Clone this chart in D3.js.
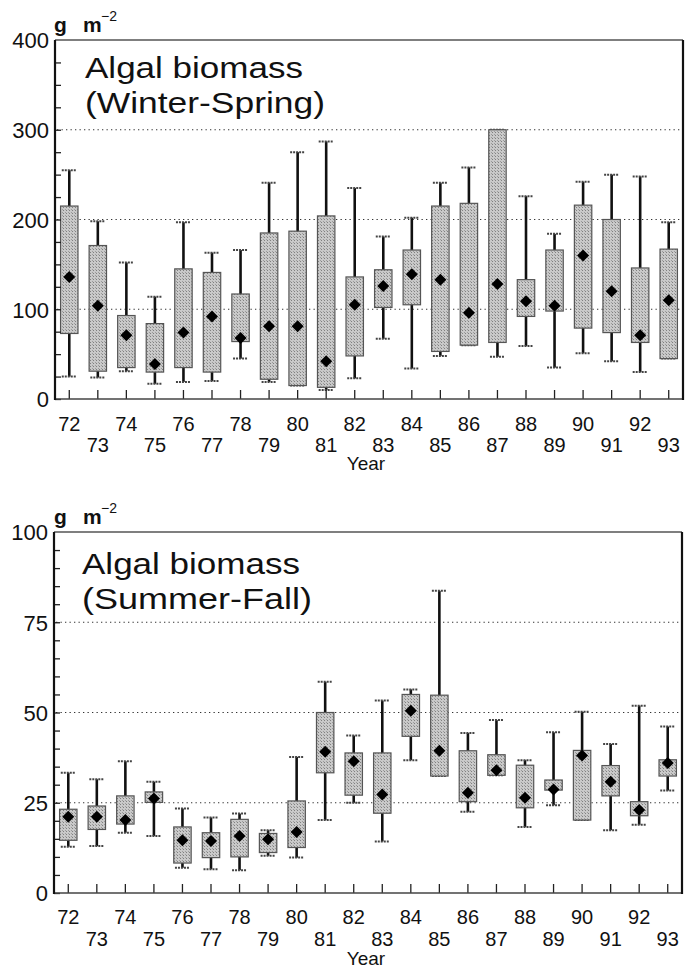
<!DOCTYPE html>
<html>
<head>
<meta charset="utf-8">
<script src="https://cdn.jsdelivr.net/npm/d3@7"></script>
<style>
  body { margin: 0; background: #fff; }
  svg { display: block; }
  text { font-family: "Liberation Sans", Arial, sans-serif; fill: #111; }
</style>
</head>
<body>
<svg id="chart" width="691" height="970"></svg>
<script>
// years on the x axis
const years = ['72', '73', '74', '75', '76', '77', '78', '79', '80', '81', '82',
  '83', '84', '85', '86', '87', '88', '89', '90', '91', '92', '93'];

// Winter-Spring (g m-2)
const wsHigh = [255, 198, 152, 114, 197, 163, 166, 241, 275, 287, 235, 181, 202, 241, 258, 300, 226, 184, 242, 250, 248, 197];
const wsQ3 = [215, 171, 93, 84, 145, 141, 117, 185, 187, 204, 136, 144, 166, 215, 218, 300, 133, 166, 216, 200, 146, 167];
const wsQ1 = [73, 31, 35, 30, 35, 30, 64, 22, 15, 13, 48, 102, 105, 53, 60, 63, 92, 98, 79, 74, 63, 45];
const wsLow = [25, 24, 31, 17, 19, 20, 45, 19, 15, 10, 23, 67, 34, 48, 60, 47, 59, 35, 51, 42, 30, 45];
const wsMid = [136, 104, 71, 39, 74, 92, 68, 81, 81, 42, 105, 126, 139, 133, 96, 128, 109, 104, 160, 120, 71, 110];

// Summer-Fall (g m-2)
const sfHigh = [33.3, 31.5, 36.5, 30.8, 23.4, 20.9, 22.0, 17.4, 37.7, 58.5, 43.6, 53.3, 56.4, 83.7, 44.3, 47.9, 36.8, 44.5, 50.2, 41.3, 51.9, 46.1];
const sfQ3 = [23.2, 24.1, 26.9, 28.0, 18.3, 16.7, 20.4, 16.5, 25.5, 50.0, 38.8, 38.8, 55.0, 54.8, 39.4, 38.3, 35.4, 31.3, 39.5, 35.3, 25.3, 36.9];
const sfQ1 = [14.6, 17.6, 19.1, 25.1, 8.3, 9.8, 10.0, 11.2, 12.6, 33.3, 27.1, 22.1, 43.4, 32.4, 25.3, 32.6, 23.6, 28.5, 20.2, 26.9, 21.4, 32.4];
const sfLow = [12.8, 13.0, 16.7, 15.8, 7.0, 6.6, 6.3, 10.3, 9.8, 20.2, 25.0, 14.3, 36.8, 32.4, 22.5, 32.6, 18.3, 24.3, 20.2, 17.4, 18.9, 28.4];
const sfMid = [21.1, 21.1, 20.2, 26.2, 14.6, 14.4, 15.8, 14.9, 16.9, 39.1, 36.5, 27.3, 50.5, 39.4, 27.8, 34.0, 26.4, 28.7, 38.1, 30.8, 23.0, 36.0];

const wsTicks = [0, 100, 200, 300, 400];
const sfTicks = [0, 25, 50, 75, 100];

const svg = d3.select('#chart');

// stippled grey fill like the scanned boxes
const defs = svg.append('defs');
const pat = defs.append('pattern')
  .attr('id', 'stipple')
  .attr('width', 3).attr('height', 3)
  .attr('patternUnits', 'userSpaceOnUse');
pat.append('rect').attr('width', 3).attr('height', 3).attr('fill', '#c9c9c9');
pat.append('rect').attr('width', 1).attr('height', 1).attr('fill', '#808080');
pat.append('rect').attr('x', 2).attr('y', 2).attr('width', 1).attr('height', 1).attr('fill', '#9c9c9c');

function drawPanel(p) {
  const x = d3.scaleBand().domain(years).range([p.left, p.right]).padding(0);
  const y = d3.scaleLinear().domain([0, p.yMax]).range([p.bottom, p.top]);
  const g = svg.append('g');
  const cx = d => x(d) + x.bandwidth() / 2;
  const boxW = x.bandwidth() * 0.61;
  const capW = 15;

  const rows = years.map((yr, i) => ({
    yr, hi: p.high[i], q3: p.q3[i], q1: p.q1[i], lo: p.low[i], mid: p.mid[i]
  }));

  // dotted gridlines
  g.selectAll('line.grid')
    .data(p.grid)
    .join('line')
    .attr('class', 'grid')
    .attr('x1', p.left + 2).attr('x2', p.right - 2)
    .attr('y1', d => y(d)).attr('y2', d => y(d))
    .attr('stroke', '#333')
    .attr('stroke-width', 1.2)
    .attr('stroke-dasharray', '1.3,3.2');

  // whiskers
  g.selectAll('line.whisker')
    .data(rows)
    .join('line')
    .attr('x1', d => cx(d.yr)).attr('x2', d => cx(d.yr))
    .attr('y1', d => y(d.hi)).attr('y2', d => y(d.lo))
    .attr('stroke', '#111')
    .attr('stroke-width', 2.6);

  ['hi', 'lo'].forEach(k => {
    g.selectAll('line.cap-' + k)
      .data(rows)
      .join('line')
      .attr('x1', d => cx(d.yr) - capW / 2).attr('x2', d => cx(d.yr) + capW / 2)
      .attr('y1', d => y(d[k])).attr('y2', d => y(d[k]))
      .attr('stroke', '#444')
      .attr('stroke-width', 2)
      .attr('stroke-dasharray', '2,1');
  });

  // boxes
  g.selectAll('rect.box')
    .data(rows)
    .join('rect')
    .attr('x', d => cx(d.yr) - boxW / 2)
    .attr('width', boxW)
    .attr('y', d => y(d.q3))
    .attr('height', d => y(d.q1) - y(d.q3))
    .attr('fill', 'url(#stipple)')
    .attr('stroke', '#555')
    .attr('stroke-width', 1.2);

  // diamonds
  const diamond = d3.symbol(d3.symbolSquare, 72);
  g.selectAll('path.mid')
    .data(rows)
    .join('path')
    .attr('d', diamond)
    .attr('transform', d => `translate(${cx(d.yr)},${y(d.mid)}) rotate(45)`)
    .attr('fill', '#000');

  // y axis: minor inner ticks
  g.append('g')
    .attr('transform', `translate(${p.left},0)`)
    .call(d3.axisLeft(y).tickValues(d3.range(0, p.yMax, p.minor)).tickSize(-6).tickFormat(''))
    .call(a => a.select('.domain').remove())
    .call(a => a.selectAll('line').attr('stroke', '#222').attr('stroke-width', 1.3));

  // y axis labels
  const ya = g.append('g')
    .attr('transform', `translate(${p.left},0)`)
    .call(d3.axisLeft(y).tickValues(p.yTicks).tickSize(0).tickPadding(6));
  ya.select('.domain').remove();
  ya.attr('font-size', null);
  ya.selectAll('text')
    .style('font-size', '22px')
    .style('font-family', '"Liberation Sans", Arial, sans-serif')
    .attr('fill', '#111')
    .attr('dy', '0.36em');

  // x axis ticks (pointing up) and staggered labels
  const xa = g.append('g')
    .attr('transform', `translate(0,${p.bottom})`)
    .call(d3.axisBottom(x).tickSize(-9).tickPadding(0))
    .call(a => a.select('.domain').remove());
  xa.selectAll('line').attr('stroke', '#222').attr('stroke-width', 1.3);
  xa.selectAll('text')
    .style('font-size', '20px')
    .style('font-family', '"Liberation Sans", Arial, sans-serif')
    .attr('fill', '#111')
    .attr('dy', null)
    .attr('y', (d, i) => (i % 2 ? p.oddY : p.evenY) - p.bottom);

  // frame
  g.append('line')
    .attr('x1', p.left).attr('x2', p.right).attr('y1', p.top).attr('y2', p.top)
    .attr('stroke', '#555').attr('stroke-width', 1.4);
  g.append('line')
    .attr('x1', p.left).attr('x2', p.right).attr('y1', p.bottom).attr('y2', p.bottom)
    .attr('stroke', '#444').attr('stroke-width', 1.6);
  g.append('line')
    .attr('x1', p.left).attr('x2', p.left).attr('y1', p.top).attr('y2', p.bottom + 1)
    .attr('stroke', '#111').attr('stroke-width', 2.2);
  g.append('line')
    .attr('x1', p.right).attr('x2', p.right).attr('y1', p.top).attr('y2', p.bottom + 1)
    .attr('stroke', '#111').attr('stroke-width', 2.2);

  // "Year"
  g.append('text')
    .attr('x', 366).attr('y', p.yearY)
    .attr('text-anchor', 'middle')
    .attr('font-size', 19)
    .text('Year');

  // unit label g m^-2
  const serif = '"Liberation Serif", "Times New Roman", serif';
  g.append('text').attr('x', 54).attr('y', p.top - 8)
    .attr('font-family', serif)
    .attr('font-weight', 'bold').attr('font-size', 21).text('g');
  g.append('text').attr('x', 83).attr('y', p.top - 8)
    .attr('font-family', serif)
    .attr('font-weight', 'bold').attr('font-size', 21).text('m');
  g.append('text').attr('x', 101).attr('y', p.top - 19)
    .attr('font-family', serif)
    .attr('font-size', 14).text('\u22122');

  // title
  g.append('text')
    .attr('x', p.titleX).attr('y', p.titleY)
    .attr('font-size', 29)
    .attr('textLength', p.t1Len).attr('lengthAdjust', 'spacingAndGlyphs')
    .text('Algal biomass');
  g.append('text')
    .attr('x', p.titleX).attr('y', p.titleY + 35)
    .attr('font-size', 29)
    .attr('textLength', p.t2Len).attr('lengthAdjust', 'spacingAndGlyphs')
    .text(p.subtitle);
}

drawPanel({
  left: 55, right: 683, top: 40, bottom: 399,
  yMax: 400, yTicks: wsTicks, grid: [100, 200, 300], minor: 25,
  high: wsHigh, q3: wsQ3, q1: wsQ1, low: wsLow, mid: wsMid,
  evenY: 431, oddY: 452, yearY: 470,
  titleX: 85, titleY: 78, t1Len: 218, t2Len: 240, subtitle: '(Winter-Spring)'
});

drawPanel({
  left: 54, right: 682, top: 532, bottom: 893,
  yMax: 100, yTicks: sfTicks, grid: [25, 50, 75], minor: 5,
  high: sfHigh, q3: sfQ3, q1: sfQ1, low: sfLow, mid: sfMid,
  evenY: 924, oddY: 946, yearY: 965,
  titleX: 82, titleY: 574, t1Len: 218, t2Len: 230, subtitle: '(Summer-Fall)'
});
</script>
</body>
</html>
